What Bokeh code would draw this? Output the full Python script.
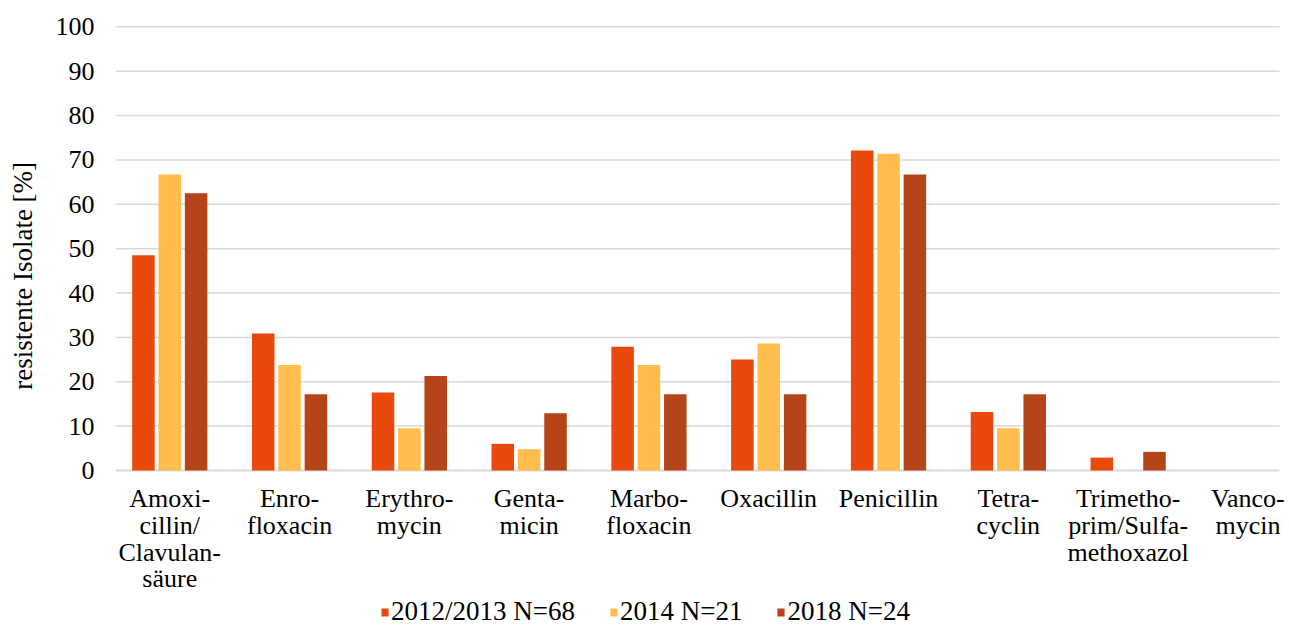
from bokeh.plotting import figure
from bokeh.models import Range1d, FixedTicker, Legend, LegendItem, ColumnDataSource
from bokeh.core.properties import value
from bokeh.transform import dodge
from bokeh.embed import file_html
from bokeh.resources import INLINE

categories = ["Amoxi-\ncillin/\nClavulan-\nsäure", "Enro-\nfloxacin", "Erythro-\nmycin",
              "Genta-\nmicin", "Marbo-\nfloxacin", "Oxacillin", "Penicillin",
              "Tetra-\ncyclin", "Trimetho-\nprim/Sulfa-\nmethoxazol", "Vanco-\nmycin"]
series_names = ["2012/2013 N=68", "2014 N=21", "2018 N=24"]
v2012 = [48.5, 30.9, 17.6, 6.0, 27.9, 25.0, 72.1, 13.2, 2.9, 0]
v2014 = [66.7, 23.8, 9.5, 4.8, 23.8, 28.6, 71.4, 9.5, 0, 0]
v2018 = [62.5, 17.2, 21.3, 12.9, 17.2, 17.2, 66.7, 17.2, 4.2, 0]
y_ticks = [0, 10, 20, 30, 40, 50, 60, 70, 80, 90, 100]
y_title = "resistente Isolate [%]"
colors = ["#E9490D", "#FFBE4D", "#B54418"]

FONT = "Liberation Serif"
X0, X1 = -0.453, 9.263   # horizontal extent of the gridlines (plot area)

xs = list(range(len(categories)))
src = ColumnDataSource(dict(x=xs, a=v2012, b=v2014, c=v2018))
lab_src = ColumnDataSource(dict(x=xs, y=[-3.1] * len(xs), t=categories))
grid_src = ColumnDataSource(dict(y=y_ticks, x0=[X0] * len(y_ticks), x1=[X1] * len(y_ticks),
                                 w=[2.0] + [1.5] * (len(y_ticks) - 1)))

# the frame extends below the 0 line so that the category labels and legend live inside it
p = figure(frame_width=1174, frame_height=602, output_backend="svg", toolbar_location=None,
           x_range=Range1d(X0, 9.347), y_range=Range1d(-35.39, 100.3),
           min_border_left=115, min_border_right=0, min_border_top=25, min_border_bottom=0)
p.outline_line_color = None
p.background_fill_color = "white"
p.xaxis.visible = False
p.xgrid.grid_line_color = None
p.ygrid.grid_line_color = None

# gridlines
p.segment(x0="x0", x1="x1", y0="y", y1="y", source=grid_src, line_color="#d9d9d9", line_width="w")

renderers = []
for col, off, c in zip(["a", "b", "c"], [-0.22, 0.0, 0.22], colors):
    r = p.vbar(x=dodge("x", off), top=col, width=0.188, bottom=0, source=src,
               fill_color=c, line_color=None)
    renderers.append(r)

# category labels
p.text(x="x", y="y", text="t", source=lab_src, text_align="center", text_baseline="top",
       text_font=value(FONT), text_font_size="26px", text_line_height=0.92, text_color="black")

# y axis
p.yaxis.ticker = FixedTicker(ticks=y_ticks)
p.yaxis.major_label_text_font = FONT
p.yaxis.major_label_text_font_size = "26px"
p.yaxis.major_label_text_color = "black"
p.yaxis.major_label_standoff = 21
p.yaxis.major_tick_out = 0
p.yaxis.major_tick_in = 0
p.yaxis.major_tick_line_color = None
p.yaxis.minor_tick_line_color = None
p.yaxis.axis_line_color = None
p.yaxis.axis_label = "\u00a0" * 15 + y_title
p.yaxis.axis_label_text_font = FONT
p.yaxis.axis_label_text_font_size = "27px"
p.yaxis.axis_label_text_font_style = "normal"
p.yaxis.axis_label_text_color = "black"
p.yaxis.axis_label_standoff = 15

legend = Legend(items=[LegendItem(label=n, renderers=[r]) for n, r in zip(series_names, renderers)],
                location=(265, 0), orientation="horizontal", padding=0, margin=0,
                border_line_color=None, background_fill_alpha=0,
                glyph_width=9, glyph_height=10, label_standoff=2, spacing=34,
                label_text_font=FONT, label_text_font_size="27px", label_text_color="black")
p.add_layout(legend)

open("out.html", "w").write(file_html(p, INLINE))
